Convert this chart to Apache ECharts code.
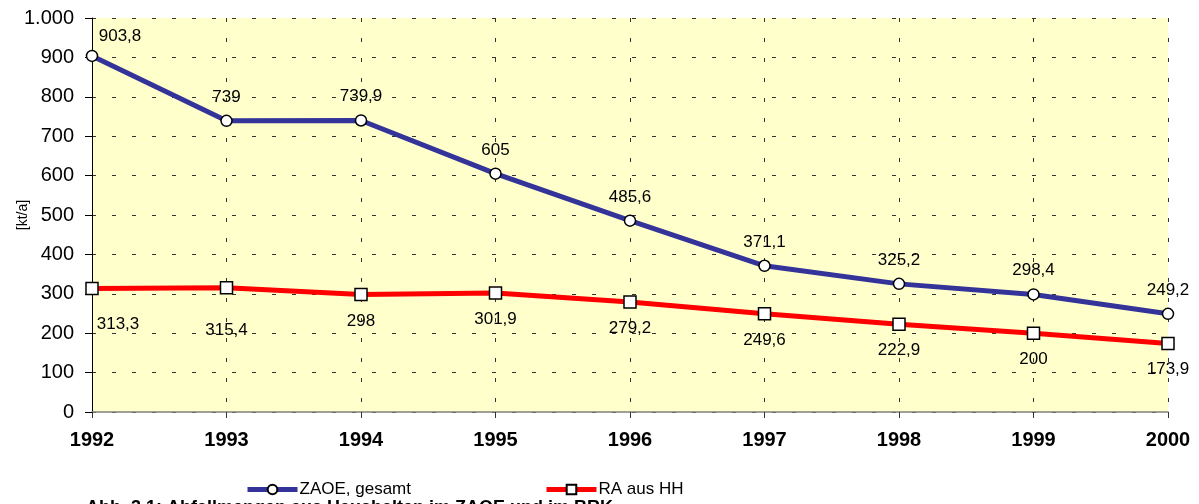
<!DOCTYPE html>
<html>
<head>
<meta charset="utf-8">
<script src="https://cdn.jsdelivr.net/npm/echarts@6/dist/echarts.min.js"></script>
<style>
  html, body { margin: 0; padding: 0; background: #fff; }
  #chart { width: 1199px; height: 504px; }
</style>
</head>
<body>
<div id="chart"></div>
<script>
// data
const years = ['1992', '1993', '1994', '1995', '1996', '1997', '1998', '1999', '2000'];
const zaoeGesamt = [903.8, 739, 739.9, 605, 485.6, 371.1, 325.2, 298.4, 249.2];
const raAusHH = [313.3, 315.4, 298, 301.9, 279.2, 249.6, 222.9, 200, 173.9];
const yTicks = [0, 100, 200, 300, 400, 500, 600, 700, 800, 900, 1000];

const fontFamily = 'Liberation Sans, Arial, sans-serif';

function deNumber(v) {
    return String(v).replace('.', ',');
}
function deThousands(v) {
    return String(v).replace(/\B(?=(\d{3})+(?!\d))/g, '.');
}

// a few labels are nudged like in the original (first point sits inside the plot)
function withLabels(values, shifts) {
    return values.map((v, i) => shifts[i] ? { value: v, label: { offset: shifts[i] } } : v);
}

const chart = echarts.init(document.getElementById('chart'));
chart.setOption({
    animation: false,
    textStyle: { fontFamily: fontFamily },
    grid: {
        left: 92,
        right: 31,
        top: 18,
        bottom: 92,
        containLabel: false,
        outerBoundsMode: 'none',
        show: true,
        backgroundColor: '#FFFFCC',
        borderWidth: 0,
    },
    xAxis: {
        type: 'category',
        data: years,
        boundaryGap: false,
        axisLine: { lineStyle: { color: '#808080', width: 1.5 } },
        axisTick: { show: true, length: 6, lineStyle: { color: '#333' } },
        axisLabel: {
            margin: 18,
            fontSize: 20,
            fontWeight: 'bold',
            color: '#000',
        },
        splitLine: {
            show: true,
            lineStyle: { color: '#333', type: [4, 16], width: 1 },
        },
    },
    yAxis: {
        type: 'value',
        min: yTicks[0],
        max: yTicks[yTicks.length - 1],
        interval: 100,
        name: '[kt/a]',
        nameLocation: 'middle',
        nameGap: 62,
        nameMoveOverlap: false,
        nameTextStyle: { fontSize: 14, color: '#000' },
        axisLine: { show: true, lineStyle: { color: '#000', width: 1 } },
        axisTick: { show: true, length: 7, lineStyle: { color: '#000' } },
        axisLabel: {
            margin: 18,
            fontSize: 20,
            color: '#000',
            formatter: v => deThousands(v),
        },
        splitLine: {
            show: true,
            lineStyle: { color: '#333', type: [4, 16], width: 1 },
        },
    },
    legend: {
        left: 240,
        top: 476,
        itemWidth: 50,
        itemHeight: 12,
        itemGap: 133,
        lineStyle: { width: 5 },
        textStyle: { fontSize: 17, color: '#000', padding: [0, 0, 0, -3] },
        data: ['ZAOE, gesamt', 'RA aus HH'],
    },
    series: [
        {
            name: 'ZAOE, gesamt',
            type: 'line',
            data: withLabels(zaoeGesamt, [[28, 4]]),
            symbol: 'circle',
            symbolSize: 11,
            lineStyle: { color: '#333399', width: 5 },
            itemStyle: { color: '#fff', borderColor: '#000', borderWidth: 1.5 },
            z: 3,
            label: {
                show: true,
                position: 'top',
                distance: 9,
                fontSize: 17,
                color: '#000',
                formatter: p => deNumber(p.value),
            },
        },
        {
            name: 'RA aus HH',
            type: 'line',
            data: withLabels(raAusHH, [[26, 10], [0, 16]]),
            symbol: 'rect',
            symbolSize: 12,
            lineStyle: { color: '#FF0000', width: 5 },
            itemStyle: { color: '#fff', borderColor: '#000', borderWidth: 1.5 },
            z: 2,
            label: {
                show: true,
                position: 'bottom',
                distance: 11,
                fontSize: 17,
                color: '#000',
                formatter: p => deNumber(p.value),
            },
        },
    ],
    graphic: [
        {
            type: 'text',
            left: 86,
            top: 499,
            style: {
                text: 'Abb. 3.1: Abfallmengen aus Haushalten im ZAOE und im BRK',
                font: 'bold 18px ' + fontFamily,
                fill: '#000',
            },
        },
    ],
});
</script>
</body>
</html>
